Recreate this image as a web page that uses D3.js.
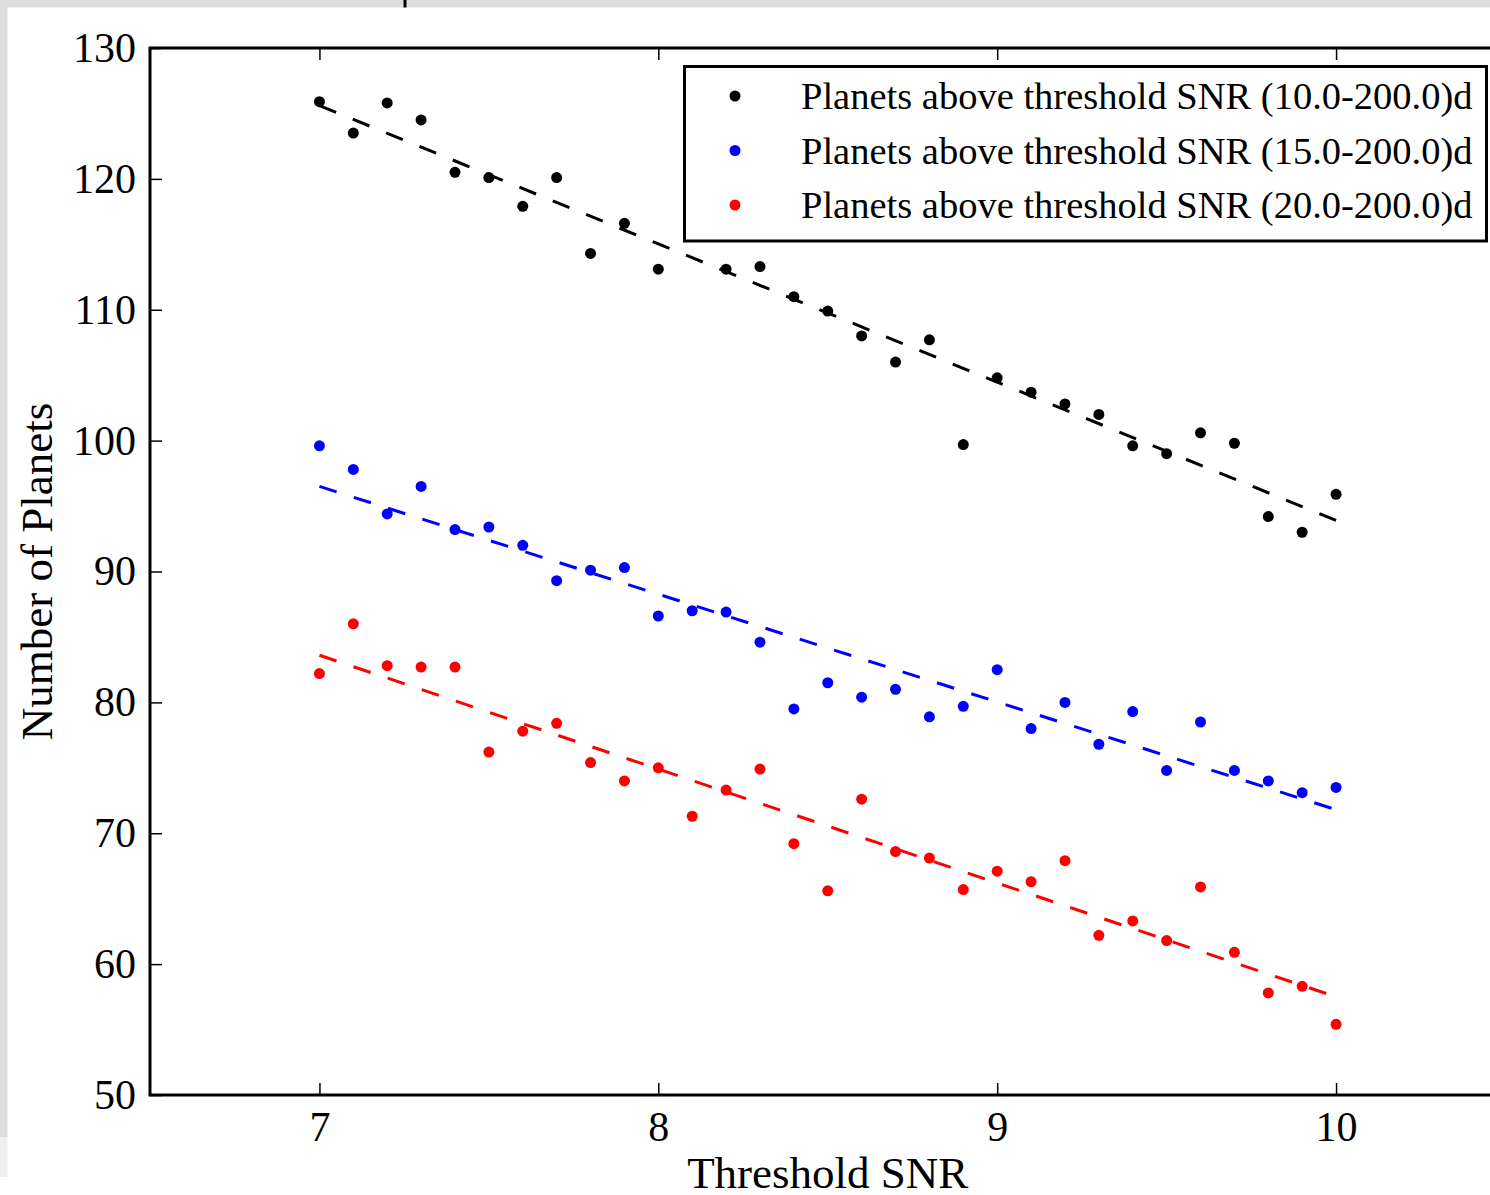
<!DOCTYPE html>
<html>
<head>
<meta charset="utf-8">
<script src="https://d3js.org/d3.v7.min.js"></script>
<style>
  body { margin: 0; background: #ffffff; }
  text { font-family: "Liberation Serif", "DejaVu Serif", serif; fill: #000; }
</style>
</head>
<body>
<div class="scatter"></div>
<script>
// threshold SNR values on the x axis
var snr = [7.0, 7.1, 7.2, 7.3, 7.4, 7.5, 7.6, 7.7, 7.8, 7.9,
           8.0, 8.1, 8.2, 8.3, 8.4, 8.5, 8.6, 8.7, 8.8, 8.9,
           9.0, 9.1, 9.2, 9.3, 9.4, 9.5, 9.6, 9.7, 9.8, 9.9, 10.0];

// number of planets per period range (null = not visible)
var planets10 = [125.9, 123.5, 125.8, 124.5, 120.5, 120.1, 117.9, 120.1, 114.3, 116.6,
                 113.1, null, 113.1, 113.3, 111.0, 109.9, 108.0, 106.0, 107.7, 99.7,
                 104.8, 103.7, 102.8, 102.0, 99.6, 99.0, 100.6, 99.8, 94.2, 93.0, 95.9];
var planets15 = [99.6, 97.8, 94.4, 96.5, 93.2, 93.4, 92.0, 89.3, 90.1, 90.3,
                 86.6, 87.0, 86.9, 84.6, 79.5, 81.5, 80.4, 81.0, 78.9, 79.7,
                 82.5, 78.0, 80.0, 76.8, 79.3, 74.8, 78.5, 74.8, 74.0, 73.1, 73.5];
var planets20 = [82.2, 86.0, 82.8, 82.7, 82.7, 76.2, 77.8, 78.4, 75.4, 74.0,
                 75.0, 71.3, 73.3, 74.9, 69.2, 65.6, 72.6, 68.6, 68.1, 65.7,
                 67.1, 66.3, 67.9, 62.2, 63.3, 61.8, 65.9, 60.9, 57.8, 58.3, 55.4];

// linear fit lines, value at SNR 7 and SNR 10
var fitX = [7, 10];
var fit10 = [125.6, 93.9];
var fit15 = [96.5, 71.8];
var fit20 = [83.6, 57.5];

var seriesLabels = ["Planets above threshold SNR (10.0-200.0)d",
                    "Planets above threshold SNR (15.0-200.0)d",
                    "Planets above threshold SNR (20.0-200.0)d"];
var seriesColors = ["#000000", "#0000ff", "#ff0000"];

var xTicks = [7, 8, 9, 10];
var yTicks = [50, 60, 70, 80, 90, 100, 110, 120, 130];

var svgWidth = 1490;
var svgHeight = 1195;

// plot box (right edge runs past the picture)
var plotLeft = 150, plotTop = 48, plotRight = 1505.5, plotBottom = 1095;

var svg = d3.select(".scatter")
  .append("svg")
  .attr("width", svgWidth)
  .attr("height", svgHeight);

// grey frame strips along the top and left edge
svg.append("rect").attr("x", 0).attr("y", 0).attr("width", svgWidth).attr("height", 7.5).attr("fill", "#dddddd");
svg.append("rect").attr("x", 0).attr("y", 0).attr("width", 7.5).attr("height", 1137).attr("fill", "#dddddd");
svg.append("rect").attr("x", 0).attr("y", 1137).attr("width", 7.5).attr("height", 40).attr("fill", "#efefef");
svg.append("rect").attr("x", 403.5).attr("y", 0).attr("width", 3).attr("height", 7.5).attr("fill", "#000");

var x = d3.scaleLinear().domain([6.5, 10.5]).range([plotLeft, plotRight]);
var y = d3.scaleLinear().domain([50, 130]).range([plotBottom, plotTop]);

// inward ticks on all sides
var tickLen = 12;
var bottomAxis = d3.axisBottom(x).tickValues(xTicks).tickSizeInner(-tickLen).tickSizeOuter(0).tickPadding(16).tickFormat(d3.format("d"));
var topAxis = d3.axisTop(x).tickValues(xTicks).tickSizeInner(-tickLen).tickSizeOuter(0).tickFormat("");
var leftAxis = d3.axisLeft(y).tickValues(yTicks).tickSizeInner(-tickLen).tickSizeOuter(0).tickPadding(14).tickFormat(d3.format("d"));
var rightAxis = d3.axisRight(y).tickValues(yTicks).tickSizeInner(-tickLen).tickSizeOuter(0).tickFormat("");

function styleAxis(g) {
  g.select(".domain").remove();
  g.selectAll(".tick line").attr("stroke", "#000").attr("stroke-width", 1.5);
  g.selectAll(".tick text").attr("font-size", 42).attr("font-family", "Liberation Serif, serif").attr("fill", "#000");
}

svg.append("g").attr("transform", `translate(0, ${plotBottom})`).call(bottomAxis).call(styleAxis);
svg.append("g").attr("transform", `translate(0, ${plotTop})`).call(topAxis).call(styleAxis);
svg.append("g").attr("transform", `translate(${plotLeft}, 0)`).call(leftAxis).call(styleAxis);
svg.append("g").attr("transform", `translate(${plotRight}, 0)`).call(rightAxis).call(styleAxis);

var groups = [
  { vals: planets10, fit: fit10 },
  { vals: planets15, fit: fit15 },
  { vals: planets20, fit: fit20 }
];

groups.forEach(function(grp, i) {
  var pts = snr.map((s, j) => ({ x: s, y: grp.vals[j] })).filter(d => d.y !== null);

  // scatter points
  svg.append("g").selectAll("circle")
    .data(pts)
    .enter()
    .append("circle")
    .attr("cx", d => x(d.x))
    .attr("cy", d => y(d.y))
    .attr("r", 5.5)
    .attr("fill", seriesColors[i]);

  // dashed fit line
  var line = d3.line().x(d => x(d[0])).y(d => y(d[1]));
  svg.append("path")
    .datum(fitX.map((s, j) => [s, grp.fit[j]]))
    .attr("d", line)
    .attr("fill", "none")
    .attr("stroke", seriesColors[i])
    .attr("stroke-width", 3)
    .attr("stroke-dasharray", "18,18");
});

// spines
svg.append("rect")
  .attr("x", plotLeft)
  .attr("y", plotTop)
  .attr("width", plotRight - plotLeft)
  .attr("height", plotBottom - plotTop)
  .attr("fill", "none")
  .attr("stroke", "#000")
  .attr("stroke-width", 3);

// legend
var legend = svg.append("g");
legend.append("rect")
  .attr("x", 684.5)
  .attr("y", 66.5)
  .attr("width", 802)
  .attr("height", 174.5)
  .attr("fill", "#fff")
  .attr("stroke", "#000")
  .attr("stroke-width", 3);

seriesLabels.forEach(function(lbl, i) {
  var rowY = 96 + i * 54.5;
  legend.append("circle")
    .attr("cx", 735)
    .attr("cy", rowY)
    .attr("r", 5.5)
    .attr("fill", seriesColors[i]);
  legend.append("text")
    .attr("x", 801)
    .attr("y", rowY + 13)
    .attr("font-size", 38.5)
    .text(lbl);
});

// axis titles
svg.append("text")
  .attr("x", (plotLeft + plotRight) / 2)
  .attr("y", 1188)
  .attr("text-anchor", "middle")
  .attr("font-size", 45)
  .text("Threshold SNR");

svg.append("text")
  .attr("transform", `translate(52, ${(plotTop + plotBottom) / 2}) rotate(-90)`)
  .attr("text-anchor", "middle")
  .attr("font-size", 45)
  .text("Number of Planets");
</script>
</body>
</html>
